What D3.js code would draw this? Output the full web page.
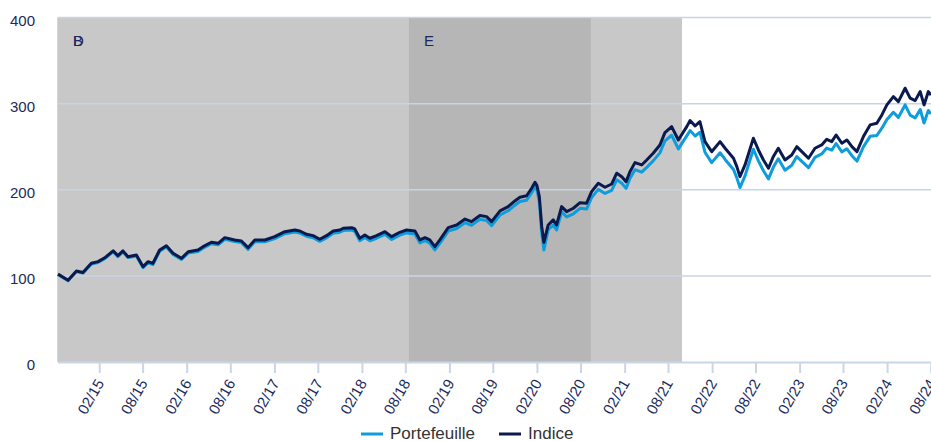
<!DOCTYPE html>
<html>
<head>
<meta charset="utf-8">
<script src="https://cdn.jsdelivr.net/npm/d3@7"></script>
<style>
body { margin: 0; background: #fff; }
text { font-family: "Liberation Sans", Arial, Helvetica, sans-serif; }
</style>
</head>
<body>
<div id="chart"></div>
<script>
var width = 931;
var height = 441;

// dates (roughly monthly, denser around the 2020 drop)
var dates = [
  "2014-08-11","2014-09-22","2014-10-27","2014-11-23","2014-12-28","2015-01-25","2015-02-22","2015-03-29","2015-04-18","2015-05-09",
  "2015-05-30","2015-07-04","2015-08-01","2015-08-22","2015-09-11","2015-10-09","2015-11-06","2015-12-04","2016-01-08","2016-02-05",
  "2016-03-17","2016-04-07","2016-05-12","2016-06-09","2016-07-07","2016-08-17","2016-09-14","2016-10-12","2016-11-09","2016-12-21",
  "2017-01-31","2017-03-14","2017-04-25","2017-05-16","2017-06-13","2017-07-10","2017-08-07","2017-09-04","2017-10-02","2017-10-30",
  "2017-11-13","2017-12-18","2017-12-31","2018-01-21","2018-02-11","2018-03-04","2018-04-01","2018-05-06","2018-06-03","2018-07-07",
  "2018-08-04","2018-09-08","2018-09-29","2018-10-20","2018-11-09","2018-11-30","2018-12-21","2019-01-25","2019-03-01","2019-04-05",
  "2019-05-02","2019-06-06","2019-07-04","2019-07-25","2019-08-29","2019-10-02","2019-10-30","2019-11-20","2019-12-18","2020-01-08",
  "2020-01-22","2020-01-30","2020-02-09","2020-02-19","2020-02-28","2020-03-17","2020-04-07","2020-04-21","2020-05-12","2020-06-02",
  "2020-06-30","2020-07-28","2020-08-24","2020-09-14","2020-10-12","2020-11-09","2020-12-07","2020-12-28","2021-01-18","2021-02-05",
  "2021-02-21","2021-03-14","2021-04-11","2021-05-02","2021-05-29","2021-06-26","2021-07-17","2021-08-14","2021-09-11","2021-10-16",
  "2021-10-30","2021-11-20","2021-12-10","2021-12-31","2022-01-28","2022-03-04","2022-03-25","2022-04-29","2022-05-13","2022-05-26",
  "2022-06-16","2022-07-21","2022-08-11","2022-09-01","2022-09-22","2022-10-12","2022-11-02","2022-11-30","2022-12-28","2023-01-18",
  "2023-02-08","2023-03-08","2023-04-04","2023-05-02","2023-05-23","2023-06-13","2023-07-01","2023-07-25","2023-08-15","2023-09-05",
  "2023-09-26","2023-10-23","2023-11-20","2023-12-18","2024-01-08","2024-01-29","2024-02-25","2024-03-17","2024-04-14","2024-05-05",
  "2024-05-26","2024-06-16","2024-07-02","2024-07-20","2024-07-31"
];

var portefeuille = [
  101.5,94.5,105,103.2,113.8,115.6,120,128,122.4,127.8,
  121.2,123.1,109.4,115.2,113.2,128.6,133.5,124.8,119,126.5,
  128.4,132.2,137.3,136,142.5,139.8,138.6,130.8,139.6,139.5,
  143.3,149,151,149.7,146,144.3,140.1,144.2,149.5,150.7,
  152.6,153.2,151.7,140.8,144.6,140.8,143.7,148.2,142.3,147.3,
  149.9,148.6,138.2,140.8,138,130.1,137.8,152,155,161.8,
  158.7,165.6,164.3,158.4,170.7,175.6,182.1,186.3,187.9,196.5,
  203.4,199.6,186,150,130,153.5,159.2,153.2,174.3,168.4,
  172.1,178.4,177.6,190.9,200.4,195.7,199.3,211.6,207.5,201.6,
  213,223.3,220.4,226,233.5,242.8,256.7,263.3,247.5,262.5,
  268.8,262.4,266.8,243.6,231.5,243,235.2,223.6,213.8,202.5,
  216,247,233.5,222,212.6,226,236,222.6,228.5,238.5,
  233,225.6,237.6,241.6,248.4,246,253.7,244,247.6,239.5,
  233.3,249.8,262,263,271.5,281.6,290,284,298.5,286.6,
  283.4,293.2,277.5,292,288
];

var indice = [
  102,95,105.7,104,114.6,116.5,121,129,123.5,129,
  122.3,124.3,110.7,116.5,114.6,130,135,126.2,120.4,128,
  130,133.9,139,137.8,144.4,141.7,140.5,132.8,141.7,141.7,
  145.5,151.3,153.3,152.1,148.3,146.7,142.5,146.7,152.1,153.3,
  155.3,156,154.5,143.7,147.5,143.7,146.7,151.3,145.5,150.6,
  153.3,152.1,141.7,144.4,141.7,133.9,141.7,156,159.1,166,
  163,170,168.8,163,175.4,180.4,187,191.3,193,201.7,
  208.7,205,192,157.1,139,159.1,165,159.1,180.4,174.6,
  178.5,185,184.3,197.8,207.5,202.9,206.7,219.2,215.2,209.4,
  221,231.5,228.8,234.6,242.4,252,266.3,273.3,257.8,273.3,
  280.3,274.1,279,255.9,244.2,255.9,248.2,236.6,226.8,215.2,
  228.8,259.8,246.2,234.6,225,238.4,248.2,234.6,240.4,250,
  244.2,236.6,248.2,252,258.6,255.9,263.6,254,257.8,250,
  244.2,261.7,275.3,277.2,286.9,298.5,308.1,302.3,317.9,306.3,
  303.5,314,298.5,314,310
];

var yTicks = [0, 100, 200, 300, 400];
var xTickLabels = ["02/15","08/15","02/16","08/16","02/17","08/17","02/18","08/18","02/19","08/19",
                   "02/20","08/20","02/21","08/21","02/22","08/22","02/23","08/23","02/24","08/24"];

// shaded periods
var bandLabels = ["B", "D", "E"];
var bandStarts = ["2014-08-11", "2014-08-11", "2018-08-14"];
var bandEnds   = ["2021-09-26", "2021-09-26", "2020-09-11"];
var bandColors = ["#c8c8c8", "#c8c8c8", "#b6b6b6"];

var seriesNames = ["Portefeuille", "Indice"];
var seriesColors = ["#0e9ddc", "#0b1a4e"];

var parse = d3.timeParse("%Y-%m-%d");

var plotLeft = 58, plotRight = 931, plotTop = 17.5, plotBottom = 362;

var x = d3.scaleTime()
  .domain([parse(dates[0]), parse(dates[dates.length - 1])])
  .range([plotLeft, plotRight]);

var y = d3.scaleLinear()
  .domain([0, 400])
  .range([plotBottom, plotTop]);

var svg = d3.select("#chart").append("svg")
  .attr("width", width)
  .attr("height", height);

// bands
var bands = bandLabels.map(function(l, i) {
  return {label: l, start: parse(bandStarts[i]), end: parse(bandEnds[i]), color: bandColors[i]};
});

svg.append("g").selectAll("rect")
  .data(bands)
  .enter().append("rect")
    .attr("x", function(d) { return x(d.start); })
    .attr("y", plotTop)
    .attr("width", function(d) { return x(d.end) - x(d.start); })
    .attr("height", plotBottom - plotTop)
    .attr("fill", function(d) { return d.color; });

// grid
svg.append("g").selectAll("line")
  .data(yTicks.filter(function(t) { return t > 0; }))
  .enter().append("line")
    .attr("x1", plotLeft)
    .attr("x2", plotRight)
    .attr("y1", function(d) { return y(d); })
    .attr("y2", function(d) { return y(d); })
    .attr("stroke", "#c8d4e5")
    .attr("stroke-width", 1.5);

// band labels
svg.append("g").selectAll("text")
  .data(bands)
  .enter().append("text")
    .attr("x", function(d) { return x(d.start) + 15; })
    .attr("y", 46)
    .attr("font-size", 15)
    .attr("fill", "#1b2a5c")
    .text(function(d) { return d.label; });

// y axis labels
svg.append("g").selectAll("text")
  .data(yTicks)
  .enter().append("text")
    .attr("x", 35)
    .attr("y", function(d) { return y(d) + 8; })
    .attr("text-anchor", "end")
    .attr("font-size", 15)
    .attr("fill", "#1b2a5c")
    .text(function(d) { return d; });

// left axis line
svg.append("line")
  .attr("x1", plotLeft - 0.5).attr("x2", plotLeft - 0.5)
  .attr("y1", plotTop).attr("y2", plotBottom)
  .attr("stroke", "#cad6e6").attr("stroke-width", 1);

// x axis
var tickDates = xTickLabels.map(function(l) {
  var p = l.split("/");
  return new Date(2000 + (+p[1]), (+p[0]) - 1, 1);
});

var xAxis = svg.append("g").attr("class", "x-axis");
xAxis.append("line")
  .attr("x1", plotLeft).attr("x2", plotRight)
  .attr("y1", plotBottom + 0.5).attr("y2", plotBottom + 0.5)
  .attr("stroke", "#cad6e6").attr("stroke-width", 2);

xAxis.selectAll("line.tick")
  .data(tickDates)
  .enter().append("line")
    .attr("class", "tick")
    .attr("x1", function(d) { return x(d); })
    .attr("x2", function(d) { return x(d); })
    .attr("y1", plotBottom)
    .attr("y2", plotBottom + 11)
    .attr("stroke", "#cad6e6")
    .attr("stroke-width", 2);

xAxis.selectAll("text")
  .data(tickDates)
  .enter().append("text")
    .attr("transform", function(d) { return "translate(" + (x(d) + 5) + "," + 383 + ") rotate(-60)"; })
    .attr("text-anchor", "end")
    .attr("font-size", 15)
    .attr("fill", "#1b2a5c")
    .text(function(d, i) { return xTickLabels[i]; });

// lines
var series = [portefeuille, indice];
var line = d3.line()
  .x(function(d) { return x(d.date); })
  .y(function(d) { return y(d.value); });

series.forEach(function(vals, s) {
  var pts = vals.map(function(v, i) { return {date: parse(dates[i]), value: v}; });
  svg.append("path")
    .datum(pts)
    .attr("fill", "none")
    .attr("stroke", seriesColors[s])
    .attr("stroke-width", 3)
    .attr("stroke-linejoin", "round")
    .attr("d", line);
});

// legend
var legendX = [361, 499];
var legend = svg.append("g");
seriesNames.forEach(function(name, i) {
  legend.append("line")
    .attr("x1", legendX[i]).attr("x2", legendX[i] + 22)
    .attr("y1", 434).attr("y2", 434)
    .attr("stroke", seriesColors[i])
    .attr("stroke-width", 3);
  legend.append("text")
    .attr("x", legendX[i] + 29)
    .attr("y", 439)
    .attr("font-size", 17)
    .attr("fill", "#333333")
    .text(name);
});
</script>
</body>
</html>
